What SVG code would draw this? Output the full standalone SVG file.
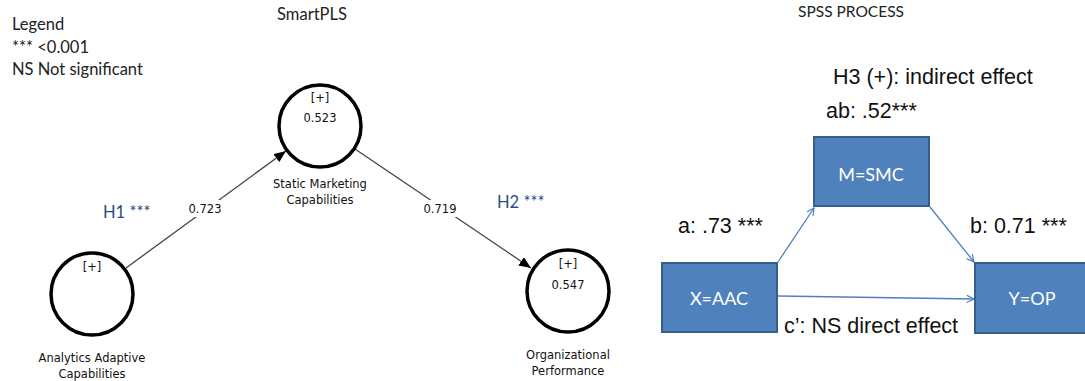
<svg xmlns="http://www.w3.org/2000/svg" width="1085" height="381" viewBox="0 0 1085 381">
<style>
.cal{font-family:Lato,"Open Sans","Liberation Sans",sans-serif;fill:#222}
.pls{font-family:"DejaVu Sans","Liberation Sans",sans-serif;font-size:11.5px;fill:#111;text-anchor:middle}
.circ{fill:#fff;stroke:#000;stroke-width:3.5}
.plsline{stroke:#444;stroke-width:1.3;fill:none}
.box{fill:#4F81BD;stroke:#385D8A;stroke-width:2}
.boxt{font-family:Lato,"Open Sans","Liberation Sans",sans-serif;font-size:18px;fill:#fff;text-anchor:middle}
.ar{font-family:"Liberation Sans",Arial,sans-serif;font-size:21.5px;fill:#111}
.bline{stroke:#4F81BD;stroke-width:1.3;fill:none}
.hl{font-family:Lato,"Open Sans","Liberation Sans",sans-serif;font-size:16.5px;fill:#2B4C7E}
</style>
<defs>
<marker id="ah" viewBox="0 0 12 10" refX="12" refY="5" markerWidth="12" markerHeight="10" markerUnits="userSpaceOnUse" orient="auto">
<path d="M0,0 L12,5 L0,10 z" fill="#000"/>
</marker>
<marker id="bh" viewBox="0 0 10 10" refX="9" refY="5" markerWidth="9" markerHeight="9" markerUnits="userSpaceOnUse" orient="auto">
<path d="M1,1 L9,5 L1,9" fill="none" stroke="#4F81BD" stroke-width="1.3"/>
</marker>
</defs>
<rect width="1085" height="381" fill="#fff"/>

<g id="legend">
<text class="cal" x="12" y="30" font-size="16.5">Legend</text>
<text class="cal" x="12" y="53" font-size="16.5">*** &lt;0.001</text>
<text class="cal" x="12" y="75" font-size="16.5">NS Not significant</text>
</g>
<text class="cal" x="312" y="20" font-size="16.5" text-anchor="middle">SmartPLS</text>
<text class="cal" x="851" y="17" font-size="15.5" text-anchor="middle">SPSS PROCESS</text>

<g id="connectors">
<line class="plsline" x1="126" y1="268" x2="286" y2="151" marker-end="url(#ah)"/>
<line class="plsline" x1="355" y1="149" x2="531" y2="268" marker-end="url(#ah)"/>
<rect x="184" y="200" width="41" height="17" fill="#fff"/>
<text class="pls" x="205" y="213">0.723</text>
<rect x="419" y="200" width="42" height="17" fill="#fff"/>
<text class="pls" x="440" y="213">0.719</text>
<line class="bline" x1="778" y1="262" x2="814" y2="208" marker-end="url(#bh)"/>
<line class="bline" x1="930" y1="207" x2="974" y2="262" marker-end="url(#bh)"/>
<line class="bline" x1="778" y1="296" x2="974" y2="299" marker-end="url(#bh)"/>
</g>

<text class="hl" x="103" y="218">H1 ***</text>
<text class="hl" x="497" y="208" fill="#2F3E5A">H2 ***</text>

<g id="node-aac">
<circle class="circ" cx="92" cy="294" r="41"/>
<text class="pls" x="92" y="271">[+]</text>
<text class="pls" x="92" y="362">Analytics Adaptive</text>
<text class="pls" x="92" y="378">Capabilities</text>
</g>
<g id="node-smc">
<circle class="circ" cx="320" cy="126" r="41"/>
<text class="pls" x="320" y="102">[+]</text>
<text class="pls" x="320" y="122">0.523</text>
<text class="pls" x="320" y="188">Static Marketing</text>
<text class="pls" x="320" y="204">Capabilities</text>
</g>
<g id="node-op">
<circle class="circ" cx="568" cy="291" r="41"/>
<text class="pls" x="568" y="268">[+]</text>
<text class="pls" x="568" y="289">0.547</text>
<text class="pls" x="568" y="359">Organizational</text>
<text class="pls" x="568" y="375">Performance</text>
</g>

<g id="node-x">
<rect class="box" x="662" y="263" width="115" height="69"/>
<text class="boxt" x="719" y="305">X=AAC</text>
</g>
<g id="node-m">
<rect class="box" x="814" y="137" width="115" height="69"/>
<text class="boxt" x="871" y="181">M=SMC</text>
</g>
<g id="node-y">
<rect class="box" x="975" y="263" width="115" height="70"/>
<text class="boxt" x="1032" y="305">Y=OP</text>
</g>

<text class="ar" x="833" y="84">H3 (+): indirect effect</text>
<text class="ar" x="826" y="118">ab: .52***</text>
<text class="ar" x="678" y="233">a: .73 ***</text>
<text class="ar" x="970" y="233">b: 0.71 ***</text>
<text class="ar" x="784" y="333">c’: NS direct effect</text>
</svg>
